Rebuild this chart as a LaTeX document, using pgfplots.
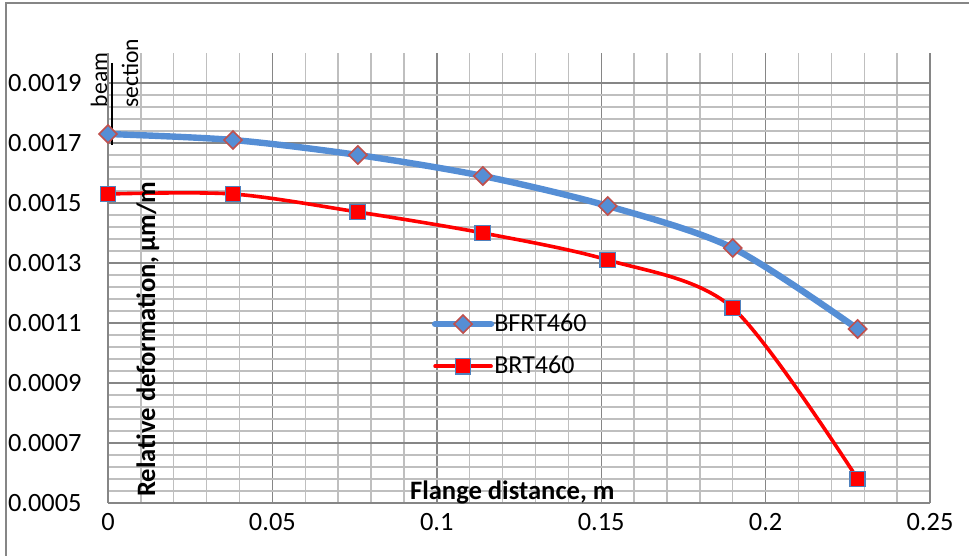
\documentclass[border=0pt]{standalone}
\usepackage{fontspec}
\setmainfont{Carlito}
\usepackage{pgfplots}
\pgfplotsset{compat=1.18}

\definecolor{bfblue}{RGB}{85,142,213}
\definecolor{mkred}{RGB}{192,80,77}
\definecolor{mkblue}{RGB}{79,129,189}
\definecolor{gridminor}{RGB}{191,191,191}
\definecolor{gridmajor}{RGB}{134,134,134}

\begin{document}
\begin{tikzpicture}
\path[use as bounding box] (-54pt,-26.5pt) rectangle (430.5pt,251.5pt);
% chart frame
\draw[gridmajor, line width=0.8pt] (-51pt,-40pt) -- (-51pt,250pt) -- (440pt,250pt);
\begin{axis}[
    at={(0,0)}, anchor=south west,
    scale only axis, width=411pt, height=225pt,
    xmin=0, xmax=0.25, ymin=0.0005, ymax=0.002,
    xtick={0,0.05,0.1,0.15,0.2,0.25},
    ytick={0.0005,0.0007,0.0009,0.0011,0.0013,0.0015,0.0017,0.0019},
    minor x tick num=4, minor y tick num=4,
    grid=both,
    major grid style={gridmajor, line width=0.7pt},
    minor grid style={gridminor, line width=0.7pt},
    axis x line*=bottom, axis y line*=left,
    axis line style={gridmajor, line width=0.9pt, -},
    tick style={draw=none},
    scaled x ticks=false, scaled y ticks=false,
    xticklabel={\pgfmathprintnumber[fixed,precision=2,assume math mode=true]{\tick}},
    yticklabel={\pgfmathprintnumber[fixed,fixed zerofill,precision=4,assume math mode=true]{\tick}},
    xticklabel style={font=\fontsize{13.2}{15}\selectfont, anchor=north, inner sep=0pt, yshift=-5pt},
    yticklabel style={font=\fontsize{13.2}{15}\selectfont, anchor=east, inner sep=0pt, xshift=-13pt},
    clip=false,
    legend cell align=left,
    legend image code/.code={\draw[mark repeat=2,mark phase=2] plot coordinates {(0pt,0pt)(14pt,0pt)(28pt,0pt)};},
    legend style={draw=none, fill=none, inner sep=0pt, outer sep=0pt,
        nodes={inner sep=0pt}, column sep=0pt, row sep=10.8pt,
        font=\fontsize{13}{15}\selectfont,
        at={(rel axis cs:0.394,0.4204)}, anchor=north west},
]
\draw[gridmajor, line width=0.9pt] (rel axis cs:1,0) -- (rel axis cs:1,1);

\addplot[bfblue, line width=3.2pt, smooth, line cap=round,
    mark=square*, mark size=3.2pt,
    mark options={rotate=45, fill=bfblue, draw=mkred, line width=0.8pt}]
    coordinates {(0,0.00173)(0.038,0.00171)(0.076,0.00166)(0.114,0.00159)
                 (0.152,0.00149)(0.19,0.00135)(0.228,0.00108)};
\addlegendentry{BFRT460}

\addplot[red, line width=1.8pt, smooth, line cap=round,
    mark=square*, mark size=3.8pt,
    mark options={fill=red, draw=mkblue, line width=0.8pt}]
    coordinates {(0,0.00153)(0.038,0.00153)(0.076,0.00147)(0.114,0.00140)
                 (0.152,0.00131)(0.19,0.00115)(0.228,0.00058)};
\addlegendentry{BRT460}

% axis titles
\node[rotate=90, anchor=base west, inner sep=0pt, font=\fontsize{13.3}{15}\selectfont\bfseries]
    at (rel axis cs:0.0572,0.0133) {Relative deformation, µm/m};
\node[anchor=base west, inner sep=0pt, font=\fontsize{13.3}{15}\selectfont\bfseries]
    at (rel axis cs:0.367,0.008) {Flange distance, m};

% beam section marker
\node[rotate=90, inner sep=0pt, font=\fontsize{11.8}{14}\selectfont] at (axis cs:-0.0027,0.00191) {beam};
\node[rotate=90, inner sep=0pt, font=\fontsize{11.8}{14}\selectfont] at (axis cs:0.0067,0.001932) {section};
\draw[black, line width=0.7pt] (axis cs:0.0012,0.001967) -- (axis cs:0.0012,0.001693);
\end{axis}
\end{tikzpicture}
\end{document}
